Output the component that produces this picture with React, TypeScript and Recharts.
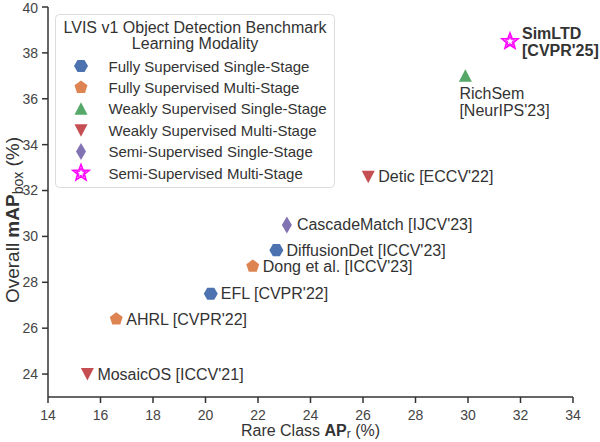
import React from 'react';
import { ScatterChart, Scatter, XAxis, YAxis, Legend, Label } from 'recharts';

const FONT = '"Liberation Sans", Arial, Helvetica, sans-serif';

// methods (point labels), rare-class AP_r, overall mAP_box, modality index
const methodNames = [
  "MosaicOS [ICCV'21]",
  "AHRL [CVPR'22]",
  "EFL [CVPR'22]",
  "Dong et al. [ICCV'23]",
  "DiffusionDet [ICCV'23]",
  "CascadeMatch [IJCV'23]",
  "Detic [ECCV'22]",
  "RichSem [NeurIPS'23]",
  "SimLTD [CVPR'25]",
];
const rareAP = [15.5, 16.6, 20.2, 21.8, 22.7, 23.1, 26.2, 29.9, 31.6];
const overallAP = [24.0, 26.4, 27.5, 28.7, 29.4, 30.5, 32.6, 37.0, 38.5];
const modality = [3, 1, 0, 1, 0, 4, 3, 2, 5];

const modalityNames = [
  'Fully Supervised Single-Stage',
  'Fully Supervised Multi-Stage',
  'Weakly Supervised Single-Stage',
  'Weakly Supervised Multi-Stage',
  'Semi-Supervised Single-Stage',
  'Semi-Supervised Multi-Stage',
];
const modalityColors = ['#4c72b0', '#dd8452', '#55a868', '#c44e52', '#8172b3', '#ff00ff'];

const xTicks = [14, 16, 18, 20, 22, 24, 26, 28, 30, 32, 34];
const yTicks = [24, 26, 28, 30, 32, 34, 36, 38, 40];

const legendTitle = ['LVIS v1 Object Detection Benchmark', 'Learning Modality'];

// build series per modality
const series = modalityNames.map((name, m) => ({
  name,
  color: modalityColors[m],
  data: methodNames
    .map((label, i) => ({ label, x: rareAP[i], y: overallAP[i], m: modality[i] }))
    .filter((d) => d.m === m),
}));

function polygon(cx: number, cy: number, r: number, n: number, rot = -Math.PI / 2) {
  const pts = [];
  for (let k = 0; k < n; k++) {
    const a = rot + (k * 2 * Math.PI) / n;
    pts.push(`${cx + r * Math.cos(a)},${cy + r * Math.sin(a)}`);
  }
  return pts.join(' ');
}

function star(cx: number, cy: number, ro: number, ri: number) {
  const pts = [];
  for (let k = 0; k < 10; k++) {
    const a = -Math.PI / 2 + (k * Math.PI) / 5;
    const r = k % 2 === 0 ? ro : ri;
    pts.push(`${cx + r * Math.cos(a)},${cy + r * Math.sin(a)}`);
  }
  return pts.join(' ');
}

function Marker({ m, cx, cy }: { m: number; cx: number; cy: number }) {
  const c = modalityColors[m];
  switch (m) {
    case 0:
      return <polygon points={polygon(cx, cy, 7, 6, 0)} fill={c} />;
    case 1:
      return <polygon points={polygon(cx, cy, 6.8, 5)} fill={c} />;
    case 2:
      return <polygon points={`${cx},${cy - 6.5} ${cx - 6.5},${cy + 6} ${cx + 6.5},${cy + 6}`} fill={c} />;
    case 3:
      return <polygon points={`${cx},${cy + 6.5} ${cx - 6.5},${cy - 6} ${cx + 6.5},${cy - 6}`} fill={c} />;
    case 4:
      return <polygon points={`${cx},${cy - 8.5} ${cx + 5},${cy} ${cx},${cy + 8.5} ${cx - 5},${cy}`} fill={c} />;
    default:
      return (
        <g>
          <polygon points={star(cx, cy, 8.5, 3.6)} fill="#fff" stroke={c} strokeWidth={1.6} strokeLinejoin="miter" />
          <polygon points={star(cx, cy, 5, 2.1)} fill="none" stroke={c} strokeWidth={1} />
        </g>
      );
  }
}

const pointShape = (props: any) => {
  const { cx, cy, payload } = props;
  const label: string = payload.label;
  const words = label.split(' [');
  let text;
  if (label.startsWith('RichSem')) {
    text = (
      <text x={cx - 6} y={cy + 17} fontSize={16} fill="#333" fontFamily={FONT} dominantBaseline="central">
        <tspan x={cx - 6}>{words[0]}</tspan>
        <tspan x={cx - 6} dy={17}>{'[' + words[1]}</tspan>
      </text>
    );
  } else if (label.startsWith('SimLTD')) {
    text = (
      <text x={cx + 12} y={cy - 8} fontSize={16} fontWeight="bold" fill="#333" fontFamily={FONT} dominantBaseline="central">
        <tspan x={cx + 12}>{words[0]}</tspan>
        <tspan x={cx + 12} dy={17}>{'[' + words[1]}</tspan>
      </text>
    );
  } else {
    text = (
      <text x={cx + 10} y={cy} fontSize={16} fill="#333" fontFamily={FONT} dominantBaseline="central">
        {label}
      </text>
    );
  }
  return (
    <g>
      <Marker m={payload.m} cx={cx} cy={cy} />
      {text}
    </g>
  );
};

const LegendBox = () => {
  const w = 279;
  const h = 173;
  return (
    <svg width={w + 2} height={h + 2} style={{ display: 'block' }}>
      <rect x={0.5} y={0.5} width={w} height={h} rx={4} fill="rgba(255,255,255,0.85)" stroke="#dcdcdc" />
      {legendTitle.map((t, i) => (
        <text key={t} x={w / 2 + 0.5} y={13.5 + i * 16} textAnchor="middle" dominantBaseline="central" fontSize={16} fill="#333" fontFamily={FONT}>
          {t}
        </text>
      ))}
      {modalityNames.map((name, i) => (
        <g key={name}>
          <Marker m={i} cx={26} cy={52 + i * 21.4} />
          <text x={53.5} y={52 + i * 21.4} dominantBaseline="central" fontSize={15} fill="#333" fontFamily={FONT}>
            {name}
          </text>
        </g>
      ))}
    </svg>
  );
};

const XLabel = (props: any) => {
  const { viewBox } = props;
  const cx = viewBox.x + viewBox.width / 2;
  return (
    <text x={cx} y={436} textAnchor="middle" fontSize={16} fill="#333" fontFamily={FONT}>
      <tspan>Rare Class </tspan>
      <tspan fontWeight="bold">AP</tspan>
      <tspan fontSize={12} dy={2}>r</tspan>
      <tspan dy={-2}> (%)</tspan>
    </text>
  );
};

const YLabel = () => {
  const cy = 220;
  const x = 19;
  return (
    <text x={x} y={cy} textAnchor="middle" fontSize={19} fill="#333" fontFamily={FONT} transform={`rotate(-90, ${x}, ${cy})`}>
      <tspan>Overall </tspan>
      <tspan fontWeight="bold">mAP</tspan>
      <tspan fontSize={14} dy={4}>box</tspan>
      <tspan dy={-4}> (%)</tspan>
    </text>
  );
};

export default function App() {
  return (
    <div style={{ width: 600, height: 442, background: '#fff' }}>
      <style>{'body{margin:0}'}</style>
      <ScatterChart width={600} height={442} margin={{ top: 7, right: 27, bottom: 0, left: 0 }}>
        <XAxis
          type="number"
          dataKey="x"
          domain={[14, 34]}
          ticks={xTicks}
          height={45}
          stroke="#333"
          strokeWidth={1.5}
          tickSize={6}
          tickMargin={7}
          tick={{ fill: '#444', fontSize: 14, fontFamily: FONT }}
        >
          <Label content={<XLabel />} />
        </XAxis>
        <YAxis
          type="number"
          dataKey="y"
          domain={[23, 40]}
          ticks={yTicks}
          width={48}
          stroke="#333"
          strokeWidth={1.5}
          tickSize={6}
          tickMargin={4}
          tick={{ fill: '#444', fontSize: 14, fontFamily: FONT }}
        >
          <Label content={<YLabel />} />
        </YAxis>
        <Legend
          layout="vertical"
          align="center"
          verticalAlign="middle"
          content={<LegendBox />}
          wrapperStyle={{ left: 55, top: 14, width: 281, height: 175 }}
        />
        {series.map((s) => (
          <Scatter key={s.name} name={s.name} data={s.data} fill={s.color} shape={pointShape} isAnimationActive={false} />
        ))}
      </ScatterChart>
    </div>
  );
}
